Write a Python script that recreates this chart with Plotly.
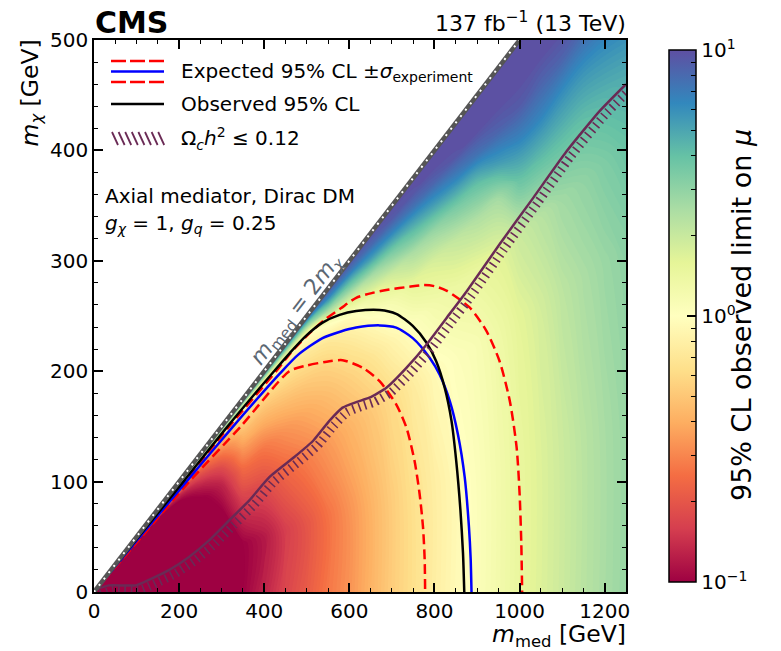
import numpy as np
import plotly.graph_objects as go

# ---------------- data ----------------
# limit map sampled along rays r = 2 m_chi / m_med (r = 1 is the m_med = 2 m_chi boundary)
r_vals = [0, 0.25, 0.5, 0.65, 0.75, 0.82, 0.88, 0.93, 0.965, 1.0]
mmed_cols = [10, 50, 100, 150, 200, 250, 300, 350, 400, 450, 500, 550, 600, 650,
             700, 750, 800, 850, 900, 950, 1000, 1050, 1100, 1150, 1200, 1250]
# 95% CL observed limit on mu, one list per m_med value (over r_vals)
mu_m10   = [0.07, 0.07, 0.07, 0.07, 0.07, 0.07, 0.07, 0.1, 0.5, 2]
mu_m50   = [0.06, 0.06, 0.06, 0.06, 0.06, 0.06, 0.07, 0.2, 1.5, 5]
mu_m100  = [0.06, 0.06, 0.06, 0.06, 0.06, 0.07, 0.08, 0.2, 1.5, 5]
mu_m150  = [0.06, 0.06, 0.06, 0.06, 0.07, 0.08, 0.1, 0.25, 1.5, 5.5]
mu_m200  = [0.06, 0.06, 0.06, 0.07, 0.08, 0.1, 0.14, 0.3, 1.6, 6]
mu_m250  = [0.06, 0.06, 0.07, 0.09, 0.12, 0.16, 0.22, 0.4, 1.6, 6]
mu_m300  = [0.08, 0.07, 0.1, 0.13, 0.18, 0.25, 0.35, 0.5, 1.6, 7]
mu_m350  = [0.1, 0.1, 0.17, 0.25, 0.35, 0.44, 0.55, 0.7, 1.6, 8]
mu_m400  = [0.13, 0.12, 0.19, 0.27, 0.38, 0.47, 0.58, 0.75, 1.8, 9]
mu_m450  = [0.17, 0.16, 0.24, 0.33, 0.44, 0.54, 0.66, 0.85, 2.2, 10]
mu_m500  = [0.21, 0.2, 0.29, 0.39, 0.5, 0.61, 0.75, 1.0, 3, 10]
mu_m550  = [0.27, 0.26, 0.35, 0.46, 0.57, 0.7, 1.0, 2.8, 6, 10]
mu_m600  = [0.33, 0.33, 0.42, 0.55, 0.71, 0.9, 1.8, 4, 7, 10]
mu_m650  = [0.42, 0.42, 0.5, 0.67, 0.92, 1.4, 2.6, 5.5, 8, 10]
mu_m700  = [0.53, 0.53, 0.61, 0.85, 1.2, 1.9, 3.5, 6.5, 9, 10]
mu_m750  = [0.64, 0.65, 0.75, 1.05, 1.6, 2.5, 4.5, 7.5, 9.5, 10]
mu_m800  = [0.78, 0.78, 0.92, 1.25, 1.8, 2.9, 5.5, 8.5, 10, 10]
mu_m850  = [0.92, 0.92, 1.05, 1.4, 2.1, 3.5, 6.5, 9.5, 10, 10]
mu_m900  = [1.07, 1.07, 1.15, 1.5, 2.4, 4, 7.5, 10, 10, 10]
mu_m950  = [1.25, 1.25, 1.35, 1.65, 2.6, 5.5, 8.5, 10, 10, 10]
mu_m1000 = [1.48, 1.48, 1.6, 2.0, 4.0, 6.5, 9, 10, 10, 10]
mu_m1050 = [1.7, 1.7, 1.85, 2.3, 4.2, 6.5, 8.5, 10, 10, 10]
mu_m1100 = [1.95, 1.95, 2.2, 2.7, 4.2, 6.0, 8.5, 10, 10, 10]
mu_m1150 = [2.25, 2.25, 2.5, 3.0, 4.2, 5.8, 8, 10, 10, 10]
mu_m1200 = [2.55, 2.55, 2.8, 3.4, 4.5, 6.0, 8, 10, 10, 10]
mu_m1250 = [2.85, 2.85, 3.1, 3.9, 4.8, 6.3, 8, 10, 10, 10]
mu_table = [mu_m10, mu_m50, mu_m100, mu_m150, mu_m200, mu_m250, mu_m300, mu_m350, mu_m400,
            mu_m450, mu_m500, mu_m550, mu_m600, mu_m650, mu_m700, mu_m750, mu_m800, mu_m850,
            mu_m900, mu_m950, mu_m1000, mu_m1050, mu_m1100, mu_m1150, mu_m1200, mu_m1250]

# observed 95% CL contour
obs_mmed = [0, 105, 210, 314, 423, 459, 498, 537, 577, 616, 671, 710, 749, 781, 804, 824, 840, 851, 861, 867, 870]
obs_mchi = [0, 50, 100, 150, 200, 216, 232, 244, 251, 254.5, 255.5, 252, 241, 226, 209, 185, 155, 119, 74, 35, 0]
# expected 95% CL contour
exp_mmed = [0, 108, 217, 327, 437, 480, 537, 580, 616, 671, 710, 749, 789, 812, 836, 855, 871, 881, 885, 887]
exp_mchi = [0, 50, 100, 150, 198, 215, 230, 236, 239.5, 241.5, 239.5, 230, 212, 197, 173, 143, 104, 59, 30, 0]
# expected +/- 1 sigma (outer / inner)
up_mmed = [0, 106, 212, 318, 428, 463, 500, 540, 580, 616, 655, 694, 741, 773, 800, 828, 883, 922, 953, 977, 993, 1000, 1004, 1006]
up_mchi = [0, 50, 100, 150, 200, 217, 232, 246, 257, 266.5, 271, 274, 276.5, 278, 277, 273, 257.5, 236.5, 209, 173, 131, 89, 44, 0]
dn_mmed = [0, 112, 224, 345, 459, 498, 553, 584, 632, 671, 710, 734, 753, 765, 773, 777, 778]
dn_mchi = [0, 50, 100, 150, 200, 205, 209, 210, 203, 191, 170, 149, 119, 89, 59, 29, 0]
# relic density line
relic_mmed = [4, 35, 98, 129, 177, 224, 271, 318, 365, 412, 470, 515, 553, 584, 616, 647, 687, 734, 781, 828, 875, 953, 1032, 1110, 1189, 1250]
relic_mchi = [2, 6, 6, 11, 20, 32, 47, 65, 83, 104, 122, 137, 155, 167, 172, 176, 185, 203, 224, 248, 272, 315, 357, 399, 436, 460]
# kinematic boundary m_med = 2 m_chi
diag_mmed = [0, 1000]
diag_mchi = [0, 500]

xticks = [0, 200, 400, 600, 800, 1000, 1200]
yticks = [0, 100, 200, 300, 400, 500]
cb_ticks = [-1, 0, 1]
cb_ticktext = ["10<sup>\u22121</sup>", "10<sup>0</sup>", "10<sup>1</sup>"]

# ---------------- layout constants ----------------
BODY = 8                      # default page margin of the html body
W, H = 781 - BODY, 651 - BODY
ML, MT = 94 - BODY, 40 - BODY
PW, PH = 532, 552
MR, MB = W - ML - PW, H - MT - PH
XS, YS = PW / 1250.0, PH / 500.0
FONT = "DejaVu Sans"
PURPLE = "#6a2a55"

def px(x):        # screen pixel -> paper
    return (x - BODY - ML) / PW

def py(y):
    return (H - MB - (y - BODY)) / PH

spectral = ["#9e0142", "#d53e4f", "#f46d43", "#fdae61", "#fee08b", "#ffffbf",
            "#e6f598", "#abdda4", "#66c2a5", "#3288bd", "#5e4fa2"]
cscale = [[i / 10.0, c] for i, c in enumerate(spectral)]

fig = go.Figure()

# carpet grid: m_med along b, ratio r along a
grid_x = [[m for r in r_vals] for m in mmed_cols]
grid_y = [[r * m / 2.0 for r in r_vals] for m in mmed_cols]
hid = dict(showgrid=False, showline=False, startline=False, endline=False,
           showticklabels="none", smoothing=0, minorgridcount=0, gridcolor="rgba(0,0,0,0)",
           linecolor="rgba(0,0,0,0)")
fig.add_trace(go.Carpet(carpet="c1", a=r_vals, b=mmed_cols, x=grid_x, y=grid_y,
                        aaxis=hid, baxis=hid))
fig.add_trace(go.Contourcarpet(
    carpet="c1", a=r_vals, b=mmed_cols, z=np.log10(np.array(mu_table)).tolist(),
    autocontour=False, contours=dict(start=-1.0, end=1.0, size=0.016, coloring="fill", showlines=False),
    line=dict(width=0, smoothing=1), colorscale=cscale, zmin=-1, zmax=1, zauto=False,
    showscale=False))

# colour bar (continuous) from an off-range dummy heatmap
fig.add_trace(go.Heatmap(
    x=[-5000], y=[-5000], z=[[0]], zmin=-1, zmax=1, colorscale=cscale, hoverinfo="skip",
    colorbar=dict(
        x=px(659), xanchor="left", y=0.5, yanchor="middle", len=1.0, lenmode="fraction",
        thickness=27, outlinewidth=1.5, outlinecolor="black",
        ticks="inside", ticklen=9, tickwidth=1.5, tickcolor="black",
        tickvals=cb_ticks, ticktext=cb_ticktext,
        tickfont=dict(family=FONT, size=20, color="black")),
))
minor_vals = [float(np.log10(k * 10.0 ** n)) for n in (-1, 0) for k in range(2, 10)]
fig.add_trace(go.Heatmap(
    x=[-5000], y=[-5000], z=[[0]], zmin=-1, zmax=1,
    colorscale=[[0, "rgba(0,0,0,0)"], [1, "rgba(0,0,0,0)"]], hoverinfo="skip",
    colorbar=dict(
        x=px(659), xanchor="left", y=0.5, yanchor="middle", len=1.0, lenmode="fraction",
        thickness=27, outlinewidth=0, ticks="inside", ticklen=5, tickwidth=1.2,
        tickcolor="black", tickvals=minor_vals, showticklabels=False),
))

# contours
dash_plot = "10px,5px"
lk = dict(showlegend=False, hoverinfo="skip", mode="lines")
fig.add_trace(go.Scatter(x=up_mmed, y=up_mchi, line=dict(color="#ff0000", width=2.5, dash=dash_plot, shape="spline", smoothing=0.7), **lk))
fig.add_trace(go.Scatter(x=dn_mmed, y=dn_mchi, line=dict(color="#ff0000", width=2.5, dash=dash_plot, shape="spline", smoothing=0.7), **lk))
fig.add_trace(go.Scatter(x=exp_mmed, y=exp_mchi, line=dict(color="#0000ff", width=2.5, shape="spline", smoothing=0.7), **lk))
fig.add_trace(go.Scatter(x=obs_mmed, y=obs_mchi, line=dict(color="black", width=2.5, shape="spline", smoothing=0.7), **lk))

# relic density line with ticks (a thick, finely dashed copy shifted to the excluded side)
off_x, off_y = 4.6 / XS, -4.6 / YS
fig.add_trace(go.Scatter(x=[v + off_x for v in relic_mmed], y=[v + off_y for v in relic_mchi],
                         line=dict(color=PURPLE, width=9, dash="1.6px,4.6px", shape="spline", smoothing=0.5), **lk))
fig.add_trace(go.Scatter(x=relic_mmed, y=relic_mchi,
                         line=dict(color=PURPLE, width=2.5, shape="spline", smoothing=0.5), **lk))

# kinematic boundary line
fig.add_trace(go.Scatter(x=diag_mmed, y=diag_mchi, line=dict(color="#555555", width=4.5), **lk))
fig.add_trace(go.Scatter(x=diag_mmed, y=diag_mchi, line=dict(color="white", width=2, dash="2px,6px"), **lk))

# ---------------- legend (drawn manually) ----------------
shapes = [
    # dark background below the boundary (shows through where mu < 0.1)
    dict(type="path", xref="x", yref="y", layer="below", line=dict(width=0), fillcolor=spectral[0],
         path="M 0,0 L 1250,0 L 1250,625 Z"),
]
lx0, lx1 = px(111), px(164)
leg_dash = "15px,4px"
shapes.append(dict(type="line", xref="paper", yref="paper", x0=lx0, x1=lx1, y0=py(61), y1=py(61), line=dict(color="#ff0000", width=2.5, dash=leg_dash)))
shapes.append(dict(type="line", xref="paper", yref="paper", x0=lx0, x1=lx1, y0=py(71.5), y1=py(71.5), line=dict(color="#0000ff", width=2.5)))
shapes.append(dict(type="line", xref="paper", yref="paper", x0=lx0, x1=lx1, y0=py(82), y1=py(82), line=dict(color="#ff0000", width=2.5, dash=leg_dash)))
shapes.append(dict(type="line", xref="paper", yref="paper", x0=lx0, x1=lx1, y0=py(104), y1=py(104), line=dict(color="black", width=2.5)))
for i in range(8):
    xs = 112 + i * 6.6
    shapes.append(dict(type="line", xref="paper", yref="paper", x0=px(xs), x1=px(xs + 6), y0=py(132), y1=py(145), line=dict(color=PURPLE, width=1.8)))

def ann(text, x, y, size=20, xanchor="left", yanchor="middle", color="black", angle=0, xref="paper", yref="paper", bold=False):
    return dict(text=("<b>%s</b>" % text) if bold else text, x=x, y=y, xref=xref, yref=yref,
                xanchor=xanchor, yanchor=yanchor, showarrow=False, textangle=angle,
                font=dict(family=FONT, size=size, color=color))

annotations = [
    ann("Expected 95% CL \u00b1<i>\u03c3</i><sub>experiment</sub>", px(179), py(72)),
    ann("Observed 95% CL", px(179), py(104)),
    ann("\u03a9<sub><i>c</i></sub><i>h</i><sup>2</sup> \u2264 0.12", px(179), py(138)),
    ann("Axial mediator, Dirac DM", px(103), py(196)),
    ann("<i>g</i><sub><i>\u03c7</i></sub> = 1, <i>g</i><sub><i>q</i></sub> = 0.25", px(103), py(224)),
    ann("CMS", px(93), py(23), size=30, bold=True),
    ann("137 fb<sup>\u22121</sup> (13 TeV)", px(628), py(22), size=22, xanchor="right"),
    ann("<i>m</i><sub>med</sub> [GeV]", px(628), py(635), size=23.5, xanchor="right"),
    ann("<i>m</i><sub><i>\u03c7</i></sub> [GeV]", px(31), py(38), size=23.5, xanchor="center", yanchor="top", angle=-90),
    ann("95% CL observed limit on <i>\u03bc</i>", px(741), py(315), size=27, xanchor="center", angle=-90),
    ann("<i>m</i><sub>med</sub> = 2<i>m</i><sub><i>\u03c7</i></sub>", 478, 256, size=22, xanchor="center",
        color="#5b6773", angle=-float(np.degrees(np.arctan(0.5 * YS / XS))), xref="x", yref="y"),
]

axis_common = dict(showline=True, linecolor="black", linewidth=1.5, mirror="allticks",
                   ticks="inside", ticklen=9, tickwidth=1.5, tickcolor="black",
                   showgrid=False, zeroline=False, layer="above traces",
                   tickfont=dict(family=FONT, size=20, color="black"))

fig.update_layout(
    width=W, height=H, margin=dict(l=ML, r=MR, t=MT, b=MB, autoexpand=False),
    paper_bgcolor="white", plot_bgcolor="white",
    xaxis=dict(range=[0, 1250], tickvals=xticks,
               minor=dict(dtick=50, tick0=0, ticks="inside", ticklen=4.5, tickwidth=1, tickcolor="black", showgrid=False),
               **axis_common),
    yaxis=dict(range=[0, 500], tickvals=yticks,
               minor=dict(dtick=20, tick0=0, ticks="inside", ticklen=4.5, tickwidth=1, tickcolor="black", showgrid=False),
               **axis_common),
    shapes=shapes, annotations=annotations, showlegend=False,
)

fig.write_html("out.html")
